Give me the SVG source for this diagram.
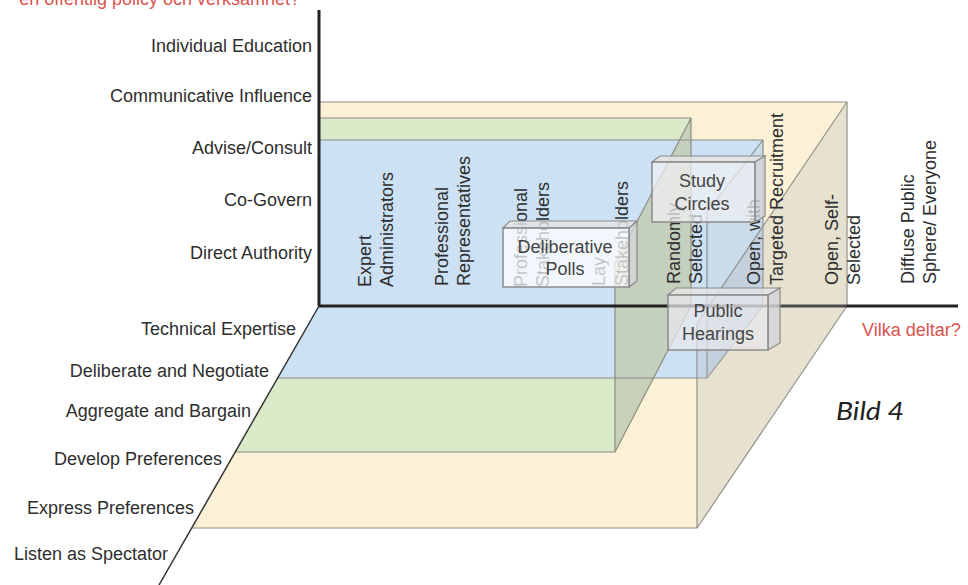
<svg xmlns="http://www.w3.org/2000/svg" width="968" height="585" viewBox="0 0 968 585">
<style>
  text { font-family: "Liberation Sans", Arial, sans-serif; font-size: 18px; fill: #2e2e2e; }
  .rl { fill: #2e2e2e; }
  .red { fill: #d9534f; }
  .edge { fill: none; stroke: #8c8c84; stroke-width: 1.2; }
  .box { fill: #ffffff; fill-opacity: 0.72; stroke: #8a8a8a; stroke-width: 1.5; }
  .boxtop { fill: #e6e6e6; fill-opacity: 0.8; stroke: #8a8a8a; stroke-width: 1.2; }
  .boxside { fill: #d4d4d8; fill-opacity: 0.8; stroke: #8a8a8a; stroke-width: 1.2; }
  .bt { fill: #444; text-anchor: middle; }
  .ll { text-anchor: end; }
</style>
<rect width="968" height="585" fill="#ffffff"/>

<g id="layers">
  <!-- back faces -->
  <rect x="319" y="102" width="528" height="204" fill="#faf1d6"/>
  <rect x="319" y="118" width="372" height="188" fill="#dbebc9"/>
  <rect x="319" y="140" width="444" height="166" fill="#cde1f4"/>
  <!-- floors -->
  <polygon points="319,306 847,306 697,528 191,528" fill="#faf1d6"/>
  <polygon points="319,306 691,306 615,452 235,452" fill="#dbebc9"/>
  <polygon points="319,306 763,306 707,378 277,378" fill="#cde1f4"/>
  <!-- right faces -->
  <polygon points="763,140 763,306 707,378 707,212" fill="#c9dcec"/>
  <polygon points="691,118 691,306 615,452 615,264" fill="#c4ccb6" fill-opacity="0.88"/>
  <!-- edges -->
  <path class="edge" d="M319,102 H847 V306 M847,102 L697,324 V528 H191 M847,306 L697,528"/>
  <path class="edge" d="M319,118 H691 V306 M691,118 L615,264 V452 H235 M691,306 L615,452"/>
  <path class="edge" d="M319,140 H763 V306 M763,140 L707,212 V378 H277 M763,306 L707,378"/>
</g>

<g id="axes">
  <line x1="319" y1="10" x2="319" y2="306" stroke="#222" stroke-width="3"/>
  <line x1="319" y1="306" x2="958" y2="306" stroke="#222" stroke-width="3"/>
  <line x1="319" y1="306" x2="159" y2="585" stroke="#333" stroke-width="1.5"/>
</g>

<g id="yellow-side">
  <polygon points="847,102 847,306 697,528 697,324" fill="#b4b4bc" fill-opacity="0.27"/>
</g>

<g id="participant-labels">
  <text class="rl" transform="translate(371,287) rotate(-90)">Expert</text>
  <text class="rl" transform="translate(393,287) rotate(-90)">Administrators</text>
  <text class="rl" transform="translate(448,286) rotate(-90)">Professional</text>
  <text class="rl" transform="translate(470,286) rotate(-90)">Representatives</text>
  <text class="rl" transform="translate(527,287) rotate(-90)">Professional</text>
  <text class="rl" transform="translate(549,287) rotate(-90)">Stakeholders</text>
  <text class="rl" transform="translate(605,286) rotate(-90)">Lay</text>
  <text class="rl" transform="translate(628,286) rotate(-90)">Stakeholders</text>
  <text class="rl" transform="translate(680,284) rotate(-90)">Randomly</text>
  <text class="rl" transform="translate(702,284) rotate(-90)">Selected</text>
  <text class="rl" transform="translate(760,285) rotate(-90)">Open, with</text>
  <text class="rl" transform="translate(783,285) rotate(-90)">Targeted Recruitment</text>
  <text class="rl" transform="translate(838,285) rotate(-90)">Open, Self-</text>
  <text class="rl" transform="translate(860,285) rotate(-90)">Selected</text>
  <text class="rl" transform="translate(914,284) rotate(-90)">Diffuse Public</text>
  <text class="rl" transform="translate(936,284) rotate(-90)">Sphere/ Everyone</text>
</g>

<g id="deliberative-polls">
  <polygon class="boxtop" points="503,228 510,221 637,221 629,228"/>
  <polygon class="boxside" points="629,228 637,221 637,281 629,287"/>
  <rect class="box" x="503" y="228" width="126" height="59"/>
  <text class="bt" x="565" y="253">Deliberative</text>
  <text class="bt" x="565" y="275">Polls</text>
</g>

<g id="study-circles">
  <polygon class="boxtop" points="652,162 660,156 765,156 755,162"/>
  <polygon class="boxside" points="755,162 765,156 765,216 755,222"/>
  <rect class="box" x="652" y="162" width="103" height="60" style="fill:#f0f0f2"/>
  <text class="bt" x="702" y="187">Study</text>
  <text class="bt" x="702" y="210">Circles</text>
</g>

<g id="public-hearings">
  <polygon class="boxtop" points="668,295 676,288 780,288 768,295"/>
  <polygon class="boxside" points="768,295 780,288 780,343 768,350"/>
  <rect class="box" x="668" y="295" width="100" height="55" style="fill:#e8e8ec"/>
  <text class="bt" x="718" y="317">Public</text>
  <text class="bt" x="718" y="340">Hearings</text>
</g>

<g id="influence-labels">
  <text class="ll" x="312" y="52">Individual Education</text>
  <text class="ll" x="312" y="102">Communicative Influence</text>
  <text class="ll" x="312" y="154">Advise/Consult</text>
  <text class="ll" x="312" y="206">Co-Govern</text>
  <text class="ll" x="312" y="259">Direct Authority</text>
</g>

<g id="communication-labels">
  <text class="ll" x="296" y="335">Technical Expertise</text>
  <text class="ll" x="269" y="377">Deliberate and Negotiate</text>
  <text class="ll" x="251" y="417">Aggregate and Bargain</text>
  <text class="ll" x="222" y="465">Develop Preferences</text>
  <text class="ll" x="194" y="514">Express Preferences</text>
  <text class="ll" x="168" y="560">Listen as Spectator</text>
</g>

<g id="titles">
  <text class="red" x="300" y="5" text-anchor="end">en offentlig policy och verksamhet?</text>
  <text class="red" x="862" y="336">Vilka deltar?</text>
  <text x="836" y="420" textLength="68" lengthAdjust="spacingAndGlyphs" style="font-family:Lato,'Open Sans',sans-serif;font-style:italic;font-size:26px;fill:#222">Bild 4</text>
</g>
</svg>
